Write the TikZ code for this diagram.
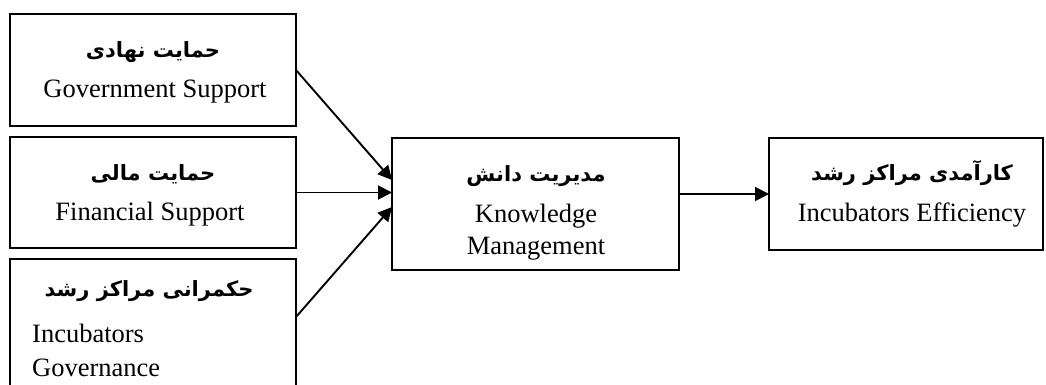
\documentclass[tikz,border=0pt]{standalone}
\usepackage{fontspec}
\setmainfont{Liberation Serif}
\newfontfamily\arabicfont[Script=Arabic]{DejaVu Sans}
\TeXXeTstate=1
\usetikzlibrary{arrows.meta}
\begin{document}
\begin{tikzpicture}[x=1pt,y=-1pt,
  box/.style={draw, line width=2pt, rectangle, inner sep=0pt, outer sep=0pt},
  fa/.style={font=\arabicfont\bfseries\fontsize{21}{25}\selectfont, inner sep=0pt},
  en/.style={font=\fontsize{26.5}{30}\selectfont, inner sep=0pt, anchor=base},
  enl/.style={en, anchor=base west},
  arr/.style={line width=1.9pt, -{Triangle[length=14pt,width=14pt]}}]
\useasboundingbox (0,0) rectangle (1046,385);
\clip (0,0) rectangle (1046,385);
% boxes
\node[box, minimum width=286pt, minimum height=112pt] (b1) at (153,70) {};
\node[box, minimum width=286pt, minimum height=111pt] (b2) at (153,192.5) {};
\node[box, minimum width=286pt, minimum height=141pt] (b3) at (153,329.5) {};
\node[box, minimum width=287pt, minimum height=132pt] (km) at (535.5,204) {};
\node[box, minimum width=274pt, minimum height=112pt] (ie) at (906,194) {};
% texts
\node[fa] (t1) at (153,52) {\beginR حمایت نهادی\endR};
\node[en] (e1) at (155,98) {Government Support};
\node[fa] (t2) at (153,174) {\beginR حمایت مالی\endR};
\node[en] (e2) at (150,220) {Financial Support};
\node[fa] (t3) at (149,291) {\beginR حکمرانی مراکز رشد\endR};
\node[enl] (e3a) at (32,342) {Incubators};
\node[enl] (e3b) at (32,376) {Governance};
\node[fa] (t4) at (536,176) {\beginR مدیریت دانش\endR};
\node[en] (e4a) at (536,222) {Knowledge};
\node[en] (e4b) at (536,254) {Management};
\node[fa] (t5) at (912,173) {\beginR کارآمدی مراکز رشد\endR};
\node[en] (e5) at (912,221) {Incubators Efficiency};
% arrows
\draw[arr] (b1.east) -- ([yshift=24pt]km.west);
\draw[arr] (b2.east) -- (b2.east -| km.west);
\draw[arr] ([yshift=12.5pt]b3.east) -- ([yshift=-3pt]km.west);
\draw[arr] (ie.west -| km.east) -- (ie.west);
\end{tikzpicture}
\end{document}
